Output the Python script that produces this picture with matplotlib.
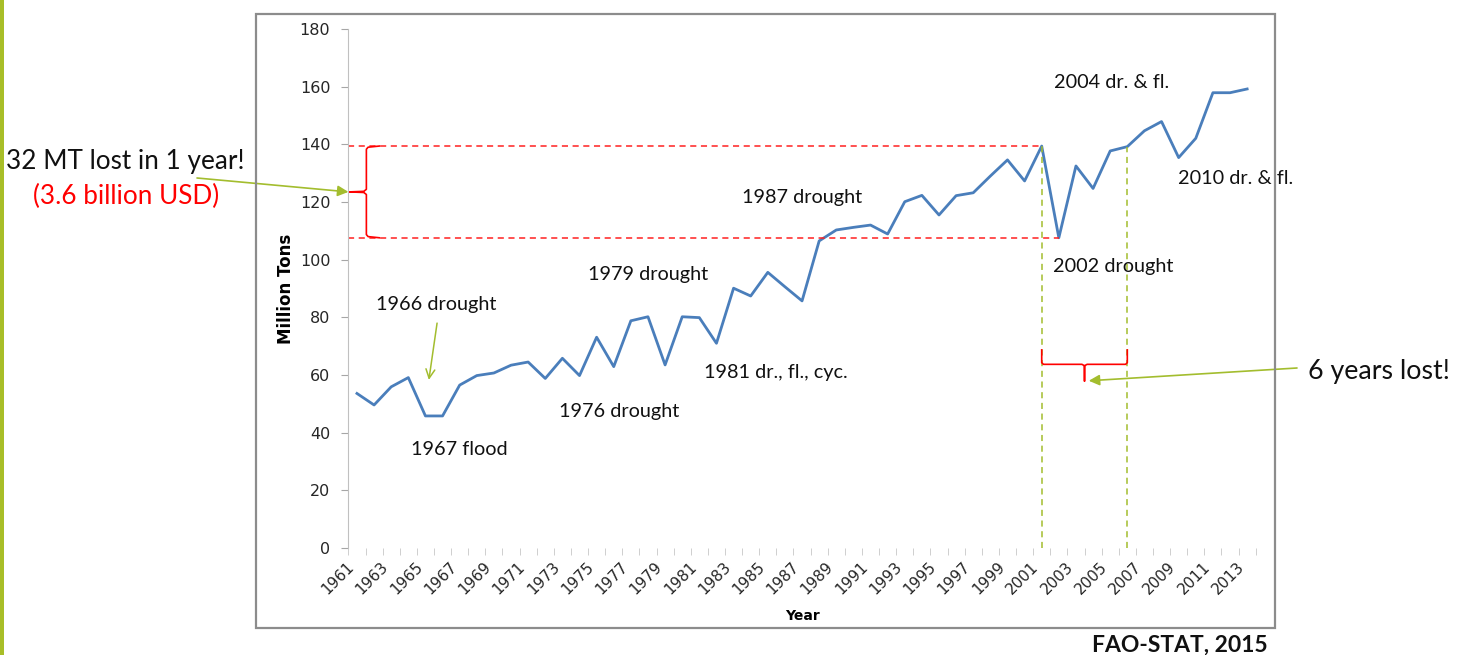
import numpy as np
import matplotlib
matplotlib.use('Agg')
import matplotlib.pyplot as plt
from matplotlib.patches import Rectangle

# Produção (milhões de toneladas)
years = np.arange(1961, 2014)
tons = [53.6, 49.6, 55.9, 59.1, 45.8, 45.8, 56.5, 59.8, 60.7, 63.4,
        64.5, 58.8, 65.8, 59.8, 73.1, 62.9, 78.8, 80.2, 63.5, 80.2,
        79.9, 71.0, 90.1, 87.4, 95.6, 90.6, 85.7, 106.5, 110.3, 111.2,
        112.0, 108.9, 120.1, 122.3, 115.5, 122.2, 123.2, 129.0, 134.6, 127.3,
        139.4, 107.6, 132.5, 124.7, 137.7, 139.2, 144.7, 147.9, 135.4, 142.1,
        157.9, 157.9, 159.2]

events = ['1966 drought', '1967 flood', '1976 drought', '1979 drought',
          '1981 dr., fl., cyc.', '1987 drought', '2002 drought',
          '2004 dr. & fl.', '2010 dr. & fl.']
event_pos = [(1965.6, 84.6), (1967.0, 34.0), (1976.3, 47.5), (1978.0, 94.7),
             (1985.5, 60.7), (1987.0, 121.4), (2005.2, 97.8),
             (2005.1, 161.3), (2012.3, 128.0)]

loss_year, recover_year = 2001, 2006
green = '#a3bd2e'
ann_font = 'Lato'

W, H = 1468, 655
fig = plt.figure(figsize=(W / 100, H / 100), dpi=100)
fig.patch.set_facecolor('white')

# moldura cinza e barra verde da esquerda
fig.patches.append(Rectangle((256 / W, 1 - 628 / H), (1275 - 256) / W, (628 - 14) / H,
                             transform=fig.transFigure, fill=False,
                             edgecolor='#8c8c8c', lw=1.6))
fig.patches.append(Rectangle((0, 0), 3.5 / W, 1, transform=fig.transFigure,
                             facecolor='#a8be28', edgecolor='none'))

ax = fig.add_axes([348.4 / W, 1 - 548 / H, (1255.7 - 348.4) / W, (548 - 29) / H])
ax.plot(years, tons, color='#4a7ebb', lw=2.0)
ax.set_xlim(1960.5, 2013.5)
ax.set_ylim(0, 180)
ax.set_yticks(range(0, 181, 20))
ax.set_xticks(years[::2])
ax.set_xticks(np.arange(1960.5, 2014, 1), minor=True)
ax.tick_params(axis='x', which='major', length=0, pad=8, labelsize=11, labelcolor='#262626')
ax.tick_params(axis='x', which='minor', length=5, color='#c8c8c8', direction='out')
ax.tick_params(axis='y', length=5, color='#a6a6a6', labelsize=11.5, labelcolor='#262626', pad=8)
for lab in ax.get_xticklabels():
    lab.set_rotation(45)
    lab.set_ha('right')
    lab.set_va('top')
for s in ['top', 'right', 'bottom']:
    ax.spines[s].set_visible(False)
ax.spines['left'].set_color('#c0c0c0')
ax.set_xlabel('Year', fontweight='bold', fontsize=10)
ax.set_ylabel('Million Tons', fontweight='bold', fontsize=12)
ax.xaxis.set_label_coords(0.5, -0.117)
ax.yaxis.set_label_coords(-0.059, 0.5)

vals = dict(zip(years, tons))
top, low = vals[loss_year], vals[loss_year + 1]

# linhas vermelhas tracejadas
ax.plot([1960.5, loss_year], [top, top], color='#ff2020', lw=1.1, ls=(0, (4, 3)))
ax.plot([1960.5, loss_year + 1], [low, low], color='#ff2020', lw=1.1, ls=(0, (4, 3)))

# linhas verdes verticais
ax.plot([loss_year, loss_year], [0, top], color=green, lw=1.1, ls=(0, (4, 3)))
ax.plot([recover_year, recover_year], [0, vals[recover_year]], color=green, lw=1.1, ls=(0, (4, 3)))

# chave vertical (esquerda)
mid = (top + low) / 2
bx = 1961.55
bx_v = [1962.3, bx + 0.1, bx, bx, bx - 0.15, 1960.55, bx - 0.15, bx, bx, bx + 0.1, 1962.3]
by_v = [top, top - 0.4, top - 1.1, mid + 0.9, mid + 0.2, mid, mid - 0.2, mid - 0.9,
        low + 1.1, low + 0.4, low]
ax.plot(bx_v, by_v, color='#ff0000', lw=1.2, clip_on=False)

# chave horizontal (embaixo)
cx = (loss_year + recover_year) / 2
hy = 63.7
hx_v = [loss_year, loss_year, loss_year + 0.1, cx - 0.15, cx, cx, cx, cx + 0.15,
        recover_year - 0.1, recover_year, recover_year]
hy_v = [68.7, hy + 0.6, hy, hy, hy - 0.5, 57.9, hy - 0.5, hy, hy, hy + 0.6, 68.7]
ax.plot(hx_v, hy_v, color='#ff0000', lw=1.2)

for txt, (x, y) in zip(events, event_pos):
    ax.text(x, y, txt, ha='center', va='center', fontsize=14.3, family=ann_font, color='#111111')

# setas verdes
ax.annotate('', xy=(1965.2, 58.3), xytext=(1965.68, 78.0),
            arrowprops=dict(arrowstyle='->', color=green, lw=1.1, mutation_scale=16,
                            shrinkA=0, shrinkB=0))
ax.annotate('', xy=(1960.5, mid), xycoords='data', xytext=(197, H - 178),
            textcoords='figure pixels', annotation_clip=False,
            arrowprops=dict(arrowstyle='-|>', color=green, lw=1.2, mutation_scale=16,
                            shrinkA=0, shrinkB=0))
ax.annotate('', xy=(cx + 0.25, 58.0), xycoords='data', xytext=(1297, H - 368),
            textcoords='figure pixels', annotation_clip=False,
            arrowprops=dict(arrowstyle='-|>', color=green, lw=1.2, mutation_scale=16,
                            shrinkA=0, shrinkB=0))

fig.text(125.5 / W, 1 - 162 / H, '32 MT lost in 1 year!', ha='center', va='center',
         fontsize=18.8, family=ann_font, color='#111111')
fig.text(126 / W, 1 - 196 / H, '(3.6 billion USD)', ha='center', va='center',
         fontsize=18.8, family=ann_font, color='#ff0000')
fig.text(1379 / W, 1 - 372 / H, '6 years lost!', ha='center', va='center',
         fontsize=19.3, family=ann_font, color='#111111')
fig.text(1268 / W, 1 - 645 / H, 'FAO-STAT, 2015', ha='right', va='center',
         fontsize=16.5, family=ann_font, fontweight='bold', color='#111111')

fig.savefig('out.png', dpi=100)
